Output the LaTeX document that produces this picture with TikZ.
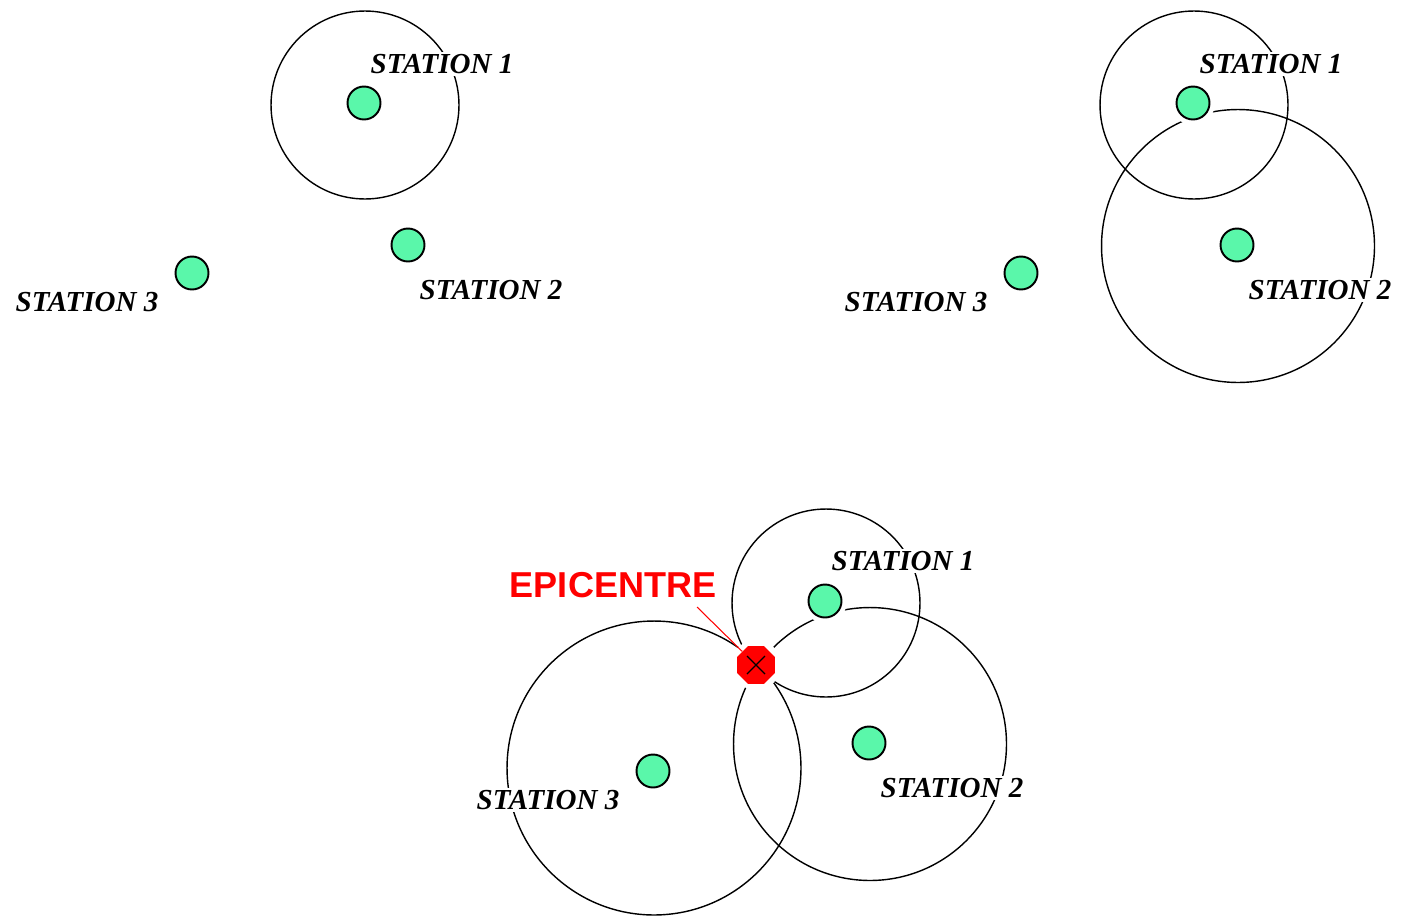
\documentclass[tikz,border=0pt]{standalone}
\usepackage{fontspec}
\setmainfont{Liberation Serif}
\newfontfamily\stfont{Liberation Serif}
\newfontfamily\epifont{Liberation Sans}
\usetikzlibrary{shapes.geometric}
\definecolor{mint}{RGB}{90,247,170}
\definecolor{epired}{RGB}{255,0,0}
\tikzset{
  ring/.style={draw=black, line width=0.8pt},
  halo/.style={fill=white},
  dot/.style={circle, fill=mint, draw=black, line width=1.1pt, minimum size=0.66cm, inner sep=0pt},
  stlabel/.style={font=\stfont\bfseries\itshape\fontsize{16.5}{16.5}\selectfont, fill=white, inner sep=1.5pt, text=black},
  epinode/.style={regular polygon, regular polygon sides=8, fill=epired, minimum size=0.82cm, inner sep=0pt},
  epilabel/.style={font=\epifont\bfseries\fontsize{20.5}{20.5}\selectfont, text=epired, inner sep=1pt},
}
\begin{document}
\begin{tikzpicture}[x=0.02cm, y=-0.02cm]
\useasboundingbox (0,0) rectangle (1402,923);
% ---------- top-left panel ----------
\coordinate (c1a) at (365,105);
\draw[ring] (c1a) circle[radius=1.88cm];
\fill[halo] (364,103) circle[radius=0.44cm];
\fill[halo] (408,245) circle[radius=0.44cm];
\fill[halo] (192,273) circle[radius=0.44cm];
\node[dot] (s1a) at (364,103) {};
\node[dot] (s2a) at (408,245) {};
\node[dot] (s3a) at (192,273) {};
\node[stlabel] (l1a) at (442,64) {STATION 1};
\node[stlabel] (l2a) at (491,290) {STATION 2};
\node[stlabel] (l3a) at (87,302) {STATION 3};
% ---------- top-right panel ----------
\coordinate (c1b) at (1194,105);
\coordinate (c2b) at (1238,246);
\draw[ring] (c1b) circle[radius=1.88cm];
\draw[ring] (c2b) circle[radius=2.73cm];
\fill[halo] (1193,103) circle[radius=0.44cm];
\fill[halo] (1237,245) circle[radius=0.44cm];
\fill[halo] (1021,273) circle[radius=0.44cm];
\node[dot] (s1b) at (1193,103) {};
\node[dot] (s2b) at (1237,245) {};
\node[dot] (s3b) at (1021,273) {};
\node[stlabel] (l1b) at (1271,64) {STATION 1};
\node[stlabel] (l2b) at (1320,290) {STATION 2};
\node[stlabel] (l3b) at (916,302) {STATION 3};
% ---------- bottom panel ----------
\coordinate (c1c) at (826,603);
\coordinate (c2c) at (870,744);
\coordinate (c3c) at (654,768);
\draw[ring] (c1c) circle[radius=1.88cm];
\draw[ring] (c2c) circle[radius=2.73cm];
\draw[ring] (c3c) circle[radius=2.94cm];
\fill[halo] (825,601) circle[radius=0.44cm];
\fill[halo] (869,743) circle[radius=0.44cm];
\fill[halo] (653,771) circle[radius=0.44cm];
\node[dot] (s1c) at (825,601) {};
\node[dot] (s2c) at (869,743) {};
\node[dot] (s3c) at (653,771) {};
\node[stlabel] (l1c) at (903,561) {STATION 1};
\node[stlabel] (l2c) at (952,788) {STATION 2};
\node[stlabel] (l3c) at (548,800) {STATION 3};
% epicentre
\fill[halo] (756,665) circle[radius=0.5cm];
\node[epinode] (epi) at (756,665) {};
\draw[line width=0.7pt] ([shift={(-9,-9)}]epi.center) -- ([shift={(9,9)}]epi.center);
\draw[line width=0.7pt] ([shift={(-9,9)}]epi.center) -- ([shift={(9,-9)}]epi.center);
\node[epilabel] (epil) at (613,585) {EPICENTRE};
\coordinate (epiline) at (697,607);
\draw[epired, line width=0.6pt] (epiline) -- (epi);
\end{tikzpicture}
\end{document}
